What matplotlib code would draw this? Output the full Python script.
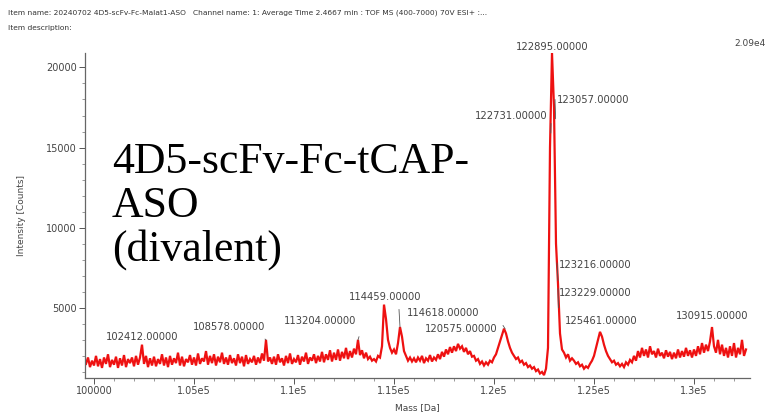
"""Deconvoluted ESI-TOF mass spectrum, 4D5-scFv-Fc-tCAP-ASO (divalent)."""
import numpy as np
import matplotlib.pyplot as plt
from matplotlib.ticker import MultipleLocator

# spectrum: intensity sampled every 100 Da from 99600 to 132600 Da
MASS_START = 99600
MASS_STEP = 100
INTENSITY = [
    1500, 1900, 1300, 1700,
    1400, 2000, 1350, 1800, 1250, 1900, 1500, 2100, 1300, 1750,   # 100k
    1450, 1950, 1250, 1850, 1400, 2050, 1300, 1800, 1550, 1900,   # 101k
    1350, 2000, 1450, 1900, 2700, 1500, 2000, 1300, 1850, 1400,   # 102k
    1950, 1350, 1800, 1500, 2100, 1400, 1900, 1300, 2000, 1450,   # 103k
    1850, 1550, 2200, 1400, 1950, 1350, 1800, 1600, 2050, 1450,   # 104k
    1900, 1400, 2150, 1500, 1850, 1650, 2300, 1450, 2000, 1550,   # 105k
    2100, 1400, 1950, 1600, 2200, 1500, 1900, 1450, 2050, 1550,   # 106k
    1850, 1400, 2100, 1550, 1950, 1350, 2050, 1500, 1800, 1600,   # 107k
    2000, 1450, 1900, 1550, 2150, 1700, 3000, 1650, 1900, 1500,   # 108k
    1950, 1450, 2100, 1600, 1850, 1400, 2000, 1550, 2150, 1500,   # 109k
    1800, 1600, 2050, 1450, 1950, 1650, 2200, 1500, 1900, 1700,   # 110k
    2100, 1550, 2000, 1650, 2250, 1600, 2100, 1750, 2350, 1650,   # 111k
    2200, 1750, 2400, 1700, 2250, 1850, 2500, 1800, 2300, 1900,   # 112k
    2450, 2100, 3000, 2050, 2350, 1850, 2200, 1800, 1950, 1700,   # 113k
    1800, 1650, 2000, 1900, 2600, 5200, 4300, 3000, 2500, 2200,   # 114k
    2400, 2100, 2800, 3800, 3200, 2300, 2000, 1700, 1900, 1650,   # 115k
    1850, 1600, 1900, 1700, 2000, 1550, 1850, 1700, 2050, 1650,   # 116k
    1900, 1750, 2100, 1800, 2250, 1950, 2400, 2100, 2550, 2200,   # 117k
    2600, 2300, 2750, 2450, 2600, 2250, 2500, 2100, 2300, 1950,   # 118k
    2000, 1700, 1800, 1500, 1650, 1400, 1600, 1450, 1700, 1600,   # 119k
    1900, 2100, 2500, 2900, 3300, 3700, 3400, 2900, 2500, 2200,   # 120k
    2000, 1800, 1900, 1600, 1700, 1450, 1550, 1300, 1400, 1200,   # 121k
    1300, 1050, 1150, 900, 1000, 800, 1200, 2500, 15000, 20900,   # 122k
    17500, 9000, 6500, 3400, 2400, 2200, 1900, 2100, 1700, 1850,  # 123k
    1700, 1500, 1600, 1350, 1450, 1200, 1350, 1250, 1500, 1700,   # 124k
    2000, 2500, 3000, 3500, 3200, 2700, 2300, 2000, 1800, 1600,   # 125k
    1700, 1450, 1550, 1350, 1500, 1300, 1600, 1450, 1750, 1600,   # 126k
    2000, 1700, 2300, 1900, 2500, 2000, 2400, 1900, 2600, 2100,   # 127k
    2300, 1900, 2450, 2000, 2200, 1850, 2350, 1950, 2250, 1800,   # 128k
    2200, 1850, 2400, 1900, 2300, 1950, 2500, 2000, 2350, 1900,   # 129k
    2400, 2000, 2600, 2100, 2800, 2200, 2700, 2300, 2900, 3800,   # 130k
    2600, 2200, 3000, 2100, 2700, 2000, 2500, 1900, 2600, 2000,   # 131k
    2800, 1900, 2500, 2100, 3000, 2000, 2400,                     # 132k
]

# labelled peaks (mass value shown, mass/intensity of the peak mark)
PEAK_NAMES = ["122895.00000", "123057.00000", "122731.00000", "123216.00000",
              "123229.00000", "125461.00000", "130915.00000", "120575.00000",
              "114618.00000", "114459.00000", "113204.00000", "108578.00000",
              "102412.00000"]
PEAK_MASS = [122900, 123050, 122850, 123150, 123200, 125300, 130900,
             120550, 115300, 114500, 113200, 108600, 102400]
PEAK_INT = [20900, 18000, 16500, 7800, 6200, 3500, 3800,
            3700, 3800, 5200, 3000, 3000, 2700]

X_TICKS = [100000, 105000, 110000, 115000, 120000, 125000, 130000]
X_TICK_LABELS = ["100000", "1.05e5", "1.1e5", "1.15e5", "1.2e5", "1.25e5", "1.3e5"]
Y_TICKS = [5000, 10000, 15000, 20000]

# label placement: (x, y, ha) in data units, plus leader line end
LABEL_POS = [
    (122900, 21300, "center", None),
    (123130, 17950, "left", (123080, 16800)),
    (122680, 16950, "right", (122840, 15900)),
    (123250, 7700, "left", (123200, 6700)),
    (123250, 5950, "left", (123220, 5000)),
    (123550, 4200, "left", None),
    (130900, 4500, "center", None),
    (118350, 3650, "center", (120450, 3900)),
    (115650, 4700, "left", (115250, 4900)),
    (114550, 5700, "center", None),
    (111300, 4200, "center", (113250, 3200)),
    (106750, 3800, "center", (108550, 3050)),
    (102400, 3200, "center", None),
]

mass = MASS_START + MASS_STEP * np.arange(len(INTENSITY))
inten = np.array(INTENSITY, dtype=float)

fig = plt.figure(figsize=(7.81, 4.20), dpi=100)
ax = fig.add_axes([85 / 781, 1 - 378 / 420, (750 - 85) / 781, (378 - 53) / 420])

ax.plot(mass, inten, color="#ee1111", lw=1.6, solid_joinstyle="miter")
ax.set_xlim(99550, 132800)
ax.set_ylim(620, 20900)

grey = "#555555"
for side in ("top", "right"):
    ax.spines[side].set_visible(False)
for side in ("left", "bottom"):
    ax.spines[side].set_color("#666666")
    ax.spines[side].set_linewidth(0.9)

ax.set_xticks(X_TICKS, X_TICK_LABELS)
ax.set_yticks(Y_TICKS, [str(v) for v in Y_TICKS])
ax.xaxis.set_minor_locator(MultipleLocator(1000))
ax.yaxis.set_minor_locator(MultipleLocator(1000))
ax.tick_params(which="major", length=4, width=0.7, color=grey, labelsize=7,
               labelcolor="#444444", pad=2)
ax.tick_params(which="minor", length=2, width=0.6, color="#888888")
ax.set_xlabel("Mass [Da]", fontsize=6.5, color="#444444", labelpad=5)
ax.set_ylabel("Intensity [Counts]", fontsize=6.5, color="#444444", labelpad=14)

for name, (x, y, ha, lead), pm, pi in zip(PEAK_NAMES, LABEL_POS, PEAK_MASS, PEAK_INT):
    ax.text(x, y, name, ha=ha, va="center", fontsize=7.2, color="#444444",
            clip_on=False)
    if lead is not None:
        ax.annotate("", xy=lead, xytext=(pm, pi), annotation_clip=False,
                    arrowprops=dict(arrowstyle="-", lw=0.6, color="#555555",
                                    shrinkA=0, shrinkB=0))

fig.text(8 / 781, 1 - 13 / 420,
         "Item name: 20240702 4D5-scFv-Fc-Malat1-ASO   Channel name: 1: Average Time 2.4667 min : "
         "TOF MS (400-7000) 70V ESI+ :...",
         fontsize=5.4, color="#333333", va="center", family="Liberation Sans Narrow")
fig.text(8 / 781, 1 - 28 / 420, "Item description:", fontsize=5.4, color="#333333",
         va="center", family="Liberation Sans Narrow")
fig.text(766 / 781, 1 - 44 / 420, "2.09e4", fontsize=6.5, color="#444444",
         ha="right", va="center")

fig.text(112 / 781, 1 - 142 / 420, "4D5-scFv-Fc-tCAP-\nASO\n(divalent)",
         fontsize=31.5, family="Liberation Serif", color="black", va="top",
         linespacing=1.12)

fig.savefig("out.png", dpi=100)
